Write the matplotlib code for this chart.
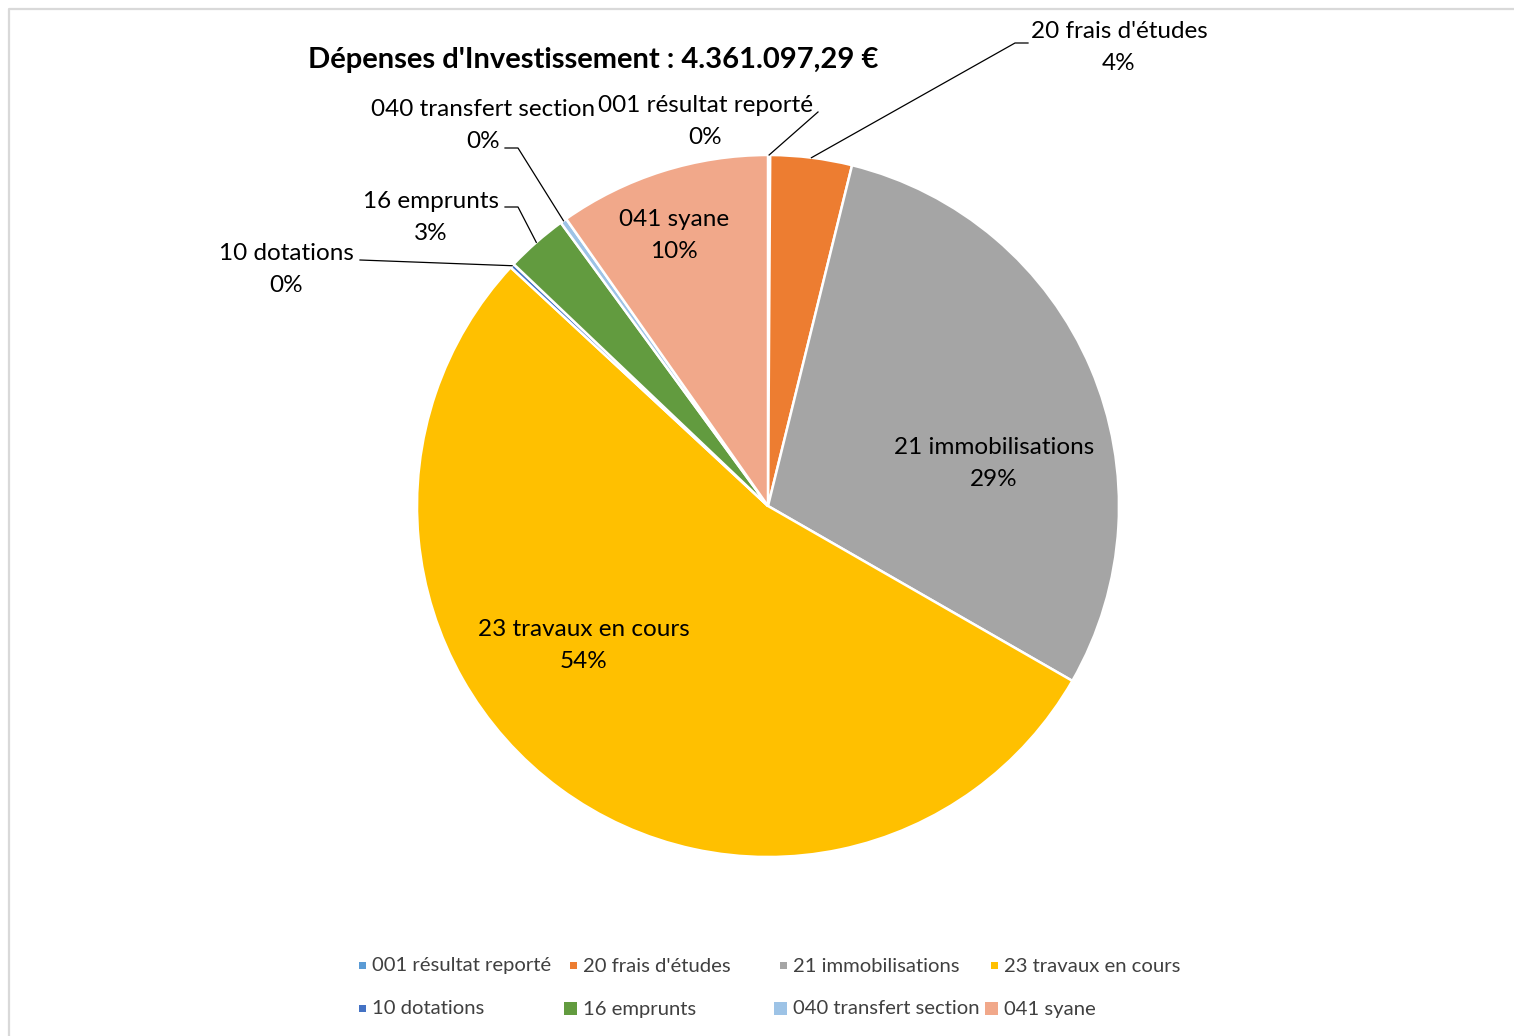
import numpy as np
import matplotlib
matplotlib.use("Agg")
import matplotlib.pyplot as plt
from matplotlib.patches import Rectangle

plt.rcParams['font.family'] = ['Lato', 'DejaVu Sans']

# données (montants en euros)
categories = ["001 résultat reporté", "20 frais d'études", "21 immobilisations",
              "23 travaux en cours", "10 dotations", "16 emprunts",
              "040 transfert section", "041 syane"]
montants = [4361, 163541, 1284343, 2337548, 8722, 124291, 13083, 425207]
couleurs = ['#5B9BD5', '#ED7D31', '#A5A5A5', '#FFC000', '#4472C4', '#629B3F',
            '#9DC3E6', '#F1A88A']
titre = "Dépenses d'Investissement : 4.361.097,29 €"

W, H = 1514, 1036
fig = plt.figure(figsize=(W / 100, H / 100), dpi=100)

# camembert : centre (768, 506), rayon 351 px
cx, cy, r = 768, 506, 351
ax = fig.add_axes([(cx - r) / W, 1 - (cy + r) / H, 2 * r / W, 2 * r / H])
wedges, _ = ax.pie(montants, colors=couleurs, startangle=90, counterclock=False,
                   radius=1, wedgeprops=dict(edgecolor='white', linewidth=1.8))
ax.set_xlim(-1, 1)
ax.set_ylim(-1, 1)
ax.axis('off')

# calque en pixels pour textes et traits
ov = fig.add_axes([0, 0, 1, 1], zorder=5)
ov.set_xlim(0, W)
ov.set_ylim(H, 0)
ov.axis('off')
ov.patch.set_alpha(0)

# cadre gris
ov.plot([8.5, 8.5, W + 5], [H + 5, 8.5, 8.5], color='#d9d9d9', lw=1.6)

ov.text(593, 60, titre, ha='center', va='center', fontsize=21,
        fontweight='bold', color='black')

pct = np.array(montants) / sum(montants) * 100
fs = 17.5


def bord(i):
    # point du bord au milieu de la part, en pixels du calque
    w = wedges[i]
    a = np.deg2rad((w.theta1 + w.theta2) / 2)
    X, Y = ax.transData.transform((np.cos(a), np.sin(a)))
    return X, H - Y


def etiquette(i, x, y):
    ov.text(x, y + 2, categories[i], ha='center', va='center', fontsize=fs)
    ov.text(x, y + 34, f"{pct[i]:.0f}%", ha='center', va='center', fontsize=fs)


# étiquettes dans le camembert
etiquette(7, 674, 218)
etiquette(2, 994, 446)
etiquette(3, 584, 628)

# étiquettes extérieures avec traits de rappel
etiquette(1, 1119, 30)
etiquette(0, 705, 104)
etiquette(6, 483, 107)
etiquette(5, 431, 200)
etiquette(4, 286, 252)

traits = {
    0: [(818, 112)],
    1: [(1015, 43), (1028, 43)],
    6: [(518, 148), (505, 148)],
    5: [(518, 207), (505, 207)],
    4: [(360, 260)],
}
for i, pts in traits.items():
    x0, y0 = bord(i)
    xs = [x0] + [p[0] for p in pts]
    ys = [y0] + [p[1] for p in pts]
    ov.plot(xs, ys, color='black', lw=0.9)

# légende
leg_x = [372, 583, 793, 1004]
leg_y = [966, 1009]
grands = {5, 6, 7}
for k, (nom, c) in enumerate(zip(categories, couleurs)):
    row, col = divmod(k, 4)
    x, y = leg_x[col], leg_y[row]
    s = 13 if k in grands else 7
    ov.add_patch(Rectangle((x - 6 - s, y - 1 - s / 2), s, s, color=c, lw=0))
    ov.text(x, y, nom, ha='left', va='center', fontsize=14.6, color='#404040')

fig.savefig("out.png", dpi=100)
